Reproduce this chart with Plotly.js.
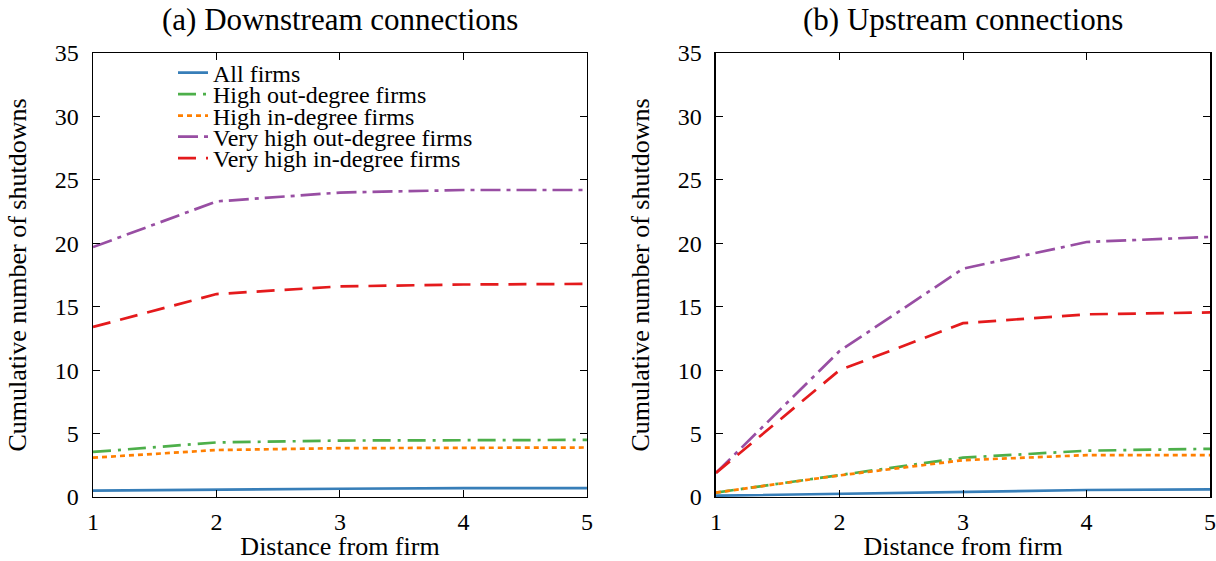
<!DOCTYPE html>
<html>
<head>
<meta charset="utf-8">
<script src="https://cdn.plot.ly/plotly-3.0.1.min.js"></script>
<style>
html,body{margin:0;padding:0;background:#fff;}
#chart{width:1216px;height:561px;}
</style>
</head>
<body>
<div id="chart"></div>
<script>
const distance = [1, 2, 3, 4, 5];
const seriesNames = ["All firms", "High out-degree firms", "High in-degree firms", "Very high out-degree firms", "Very high in-degree firms"];
// (a) Downstream connections
const downAll = [0.5, 0.6, 0.65, 0.7, 0.7];
const downHighOut = [3.55, 4.3, 4.45, 4.5, 4.5];
const downHighIn = [3.1, 3.7, 3.85, 3.9, 3.9];
const downVeryHighOut = [19.7, 23.3, 24.0, 24.2, 24.2];
const downVeryHighIn = [13.4, 16.0, 16.6, 16.75, 16.8];
// (b) Upstream connections
const upAll = [0.1, 0.25, 0.45, 0.55, 0.6];
const upHighOut = [0.35, 1.7, 3.1, 3.65, 3.8];
const upHighIn = [0.35, 1.7, 2.9, 3.3, 3.3];
const upVeryHighOut = [1.9, 11.5, 18.0, 20.1, 20.5];
const upVeryHighIn = [1.9, 10.0, 13.7, 14.4, 14.55];
const panelTitles = ["(a) Downstream connections", "(b) Upstream connections"];
const yTicks = [0, 5, 10, 15, 20, 25, 30, 35];

const styles = [
  {color: "#377eb8", dash: "solid"},
  {color: "#4daf4a", dash: "18px,7px,3px,7px"},
  {color: "#ff7f00", dash: "5px,4px"},
  {color: "#984ea3", dash: "20px,6px,4px,6px"},
  {color: "#e41a1c", dash: "18px,10px"}
];
const downData = [downAll, downHighOut, downHighIn, downVeryHighOut, downVeryHighIn];
const upData = [upAll, upHighOut, upHighIn, upVeryHighOut, upVeryHighIn];
const legendIds = ["legend", "legend2", "legend3", "legend4", "legend5"];

const traces = [];
downData.forEach((ys, i) => traces.push({
  x: distance, y: ys, type: "scatter", mode: "lines", name: seriesNames[i],
  xaxis: "x", yaxis: "y", showlegend: true, legend: legendIds[i],
  line: {color: styles[i].color, dash: styles[i].dash, width: 2.7}
}));
upData.forEach((ys, i) => traces.push({
  x: distance, y: ys, type: "scatter", mode: "lines", name: seriesNames[i],
  xaxis: "x2", yaxis: "y2", showlegend: false,
  line: {color: styles[i].color, dash: styles[i].dash, width: 2.7}
}));

const FONT = "Liberation Serif";
function xAxis(domain, anchor) {
  return {
    domain: domain, anchor: anchor, range: [1, 5], tickvals: distance,
    ticks: "inside", ticklen: 7, tickwidth: 1, tickcolor: "#000",
    showline: true, linecolor: "#000", linewidth: 1.5, mirror: "ticks",
    showgrid: false, zeroline: false, ticklabelstandoff: 3,
    ticklabeloverflow: "allow",
    tickfont: {family: FONT, size: 24, color: "#000"},
    title: {text: "Distance from firm", font: {family: FONT, size: 26, color: "#000"}, standoff: 6}
  };
}
function yAxis(anchor) {
  return {
    domain: [0.1141, 0.9055], anchor: anchor, range: [0, 35], tickvals: yTicks,
    ticks: "inside", ticklen: 7, tickwidth: 1, tickcolor: "#000",
    showline: true, linecolor: "#000", linewidth: 1.5, mirror: "ticks",
    showgrid: false, zeroline: false, ticklabelstandoff: 8,
    ticklabeloverflow: "allow",
    tickfont: {family: FONT, size: 24, color: "#000"},
    title: {text: "Cumulative number of shutdowns", font: {family: FONT, size: 26, color: "#000"}, standoff: 20}
  };
}

const legendCentersPx = [73, 94.5, 116, 137, 158.5];
const layout = {
  width: 1216, height: 561,
  margin: {l: 0, r: 0, t: 0, b: 0},
  paper_bgcolor: "#fff", plot_bgcolor: "#fff",
  xaxis: xAxis([0.0765, 0.4827], "y"),
  yaxis: yAxis("x"),
  xaxis2: xAxis([0.5888, 0.9951], "y2"),
  yaxis2: yAxis("x2"),
  showlegend: true,
  annotations: [
    {text: panelTitles[0], xref: "paper", yref: "paper", x: 0.2796, y: 1 - 20/561, xanchor: "center", yanchor: "middle", showarrow: false, font: {family: FONT, size: 31, color: "#000"}},
    {text: panelTitles[1], xref: "paper", yref: "paper", x: 0.7919, y: 1 - 20/561, xanchor: "center", yanchor: "middle", showarrow: false, font: {family: FONT, size: 31, color: "#000"}}
  ]
};
legendIds.forEach((id, i) => {
  layout[id] = {
    x: 173/1216, y: 1 - legendCentersPx[i]/561, xanchor: "left", yanchor: "middle",
    bgcolor: "rgba(0,0,0,0)", borderwidth: 0,
    font: {family: FONT, size: 24, color: "#000"}
  };
});

Plotly.newPlot("chart", traces, layout, {displayModeBar: false, staticPlot: true});
</script>
</body>
</html>
